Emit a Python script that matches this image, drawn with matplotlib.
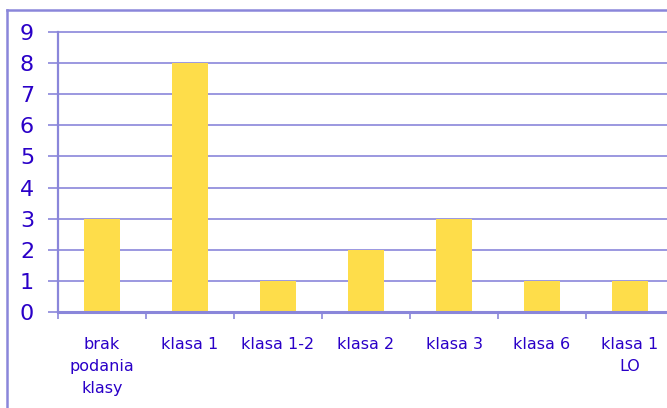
import matplotlib.pyplot as plt
from matplotlib.lines import Line2D
import numpy as np

categories = ["brak\npodania\nklasy", "klasa 1", "klasa 1-2", "klasa 2",
              "klasa 3", "klasa 6", "klasa 1\nLO"]
values = [3, 8, 1, 2, 3, 1, 1]
yticks = list(range(0, 10))

line_col = "#8A86DA"
text_col = "#2A00C8"
bar_col = "#FEDD4A"

fig = plt.figure(figsize=(6.67, 4.08), dpi=100)

# outer frame (only top and left visible in the picture)
fig.add_artist(Line2D([7 / 667, 7 / 667], [0, 1 - 10 / 408], color=line_col, lw=1.8,
                      transform=fig.transFigure))
fig.add_artist(Line2D([7 / 667, 1], [1 - 10 / 408, 1 - 10 / 408], color=line_col, lw=1.8,
                      transform=fig.transFigure))

left, right = 58 / 667, 674 / 667
bottom, top = 1 - 312 / 408, 1 - 32 / 408
ax = fig.add_axes([left, bottom, right - left, top - bottom])

x = np.arange(len(categories))
ax.bar(x, values, width=0.41, color=bar_col, zorder=2)

ax.set_xlim(-0.5, len(categories) - 0.5)
ax.set_ylim(0, 9)
ax.set_yticks(yticks)
ax.yaxis.grid(True, color=line_col, lw=1.2, zorder=1)
for gl in ax.get_ygridlines():
    gl.set_clip_on(False)
ax.set_axisbelow(True)

for s in ["top", "right"]:
    ax.spines[s].set_visible(False)
ax.spines["left"].set_color(line_col)
ax.spines["left"].set_linewidth(1.6)
ax.spines["bottom"].set_color(line_col)
ax.spines["bottom"].set_linewidth(2.2)

ax.tick_params(axis="y", length=7.2, width=1.2, color=line_col,
               labelsize=16, pad=10, labelcolor=text_col)

# x ticks at category boundaries, labels at centers
ax.set_xticks(np.arange(len(categories) + 1) - 0.5, minor=False)
ax.set_xticklabels([])
ax.tick_params(axis="x", length=5, width=1.2, color=line_col)
ax.set_xticks(x, minor=True)
ax.set_xticklabels(categories, minor=True)
ax.tick_params(axis="x", which="minor", length=0, pad=18, labelsize=11.5,
               labelcolor=text_col)
for lab in ax.get_xticklabels(minor=True):
    lab.set_linespacing(1.6)
    lab.set_verticalalignment("top")

fig.savefig("out.png", dpi=100)
